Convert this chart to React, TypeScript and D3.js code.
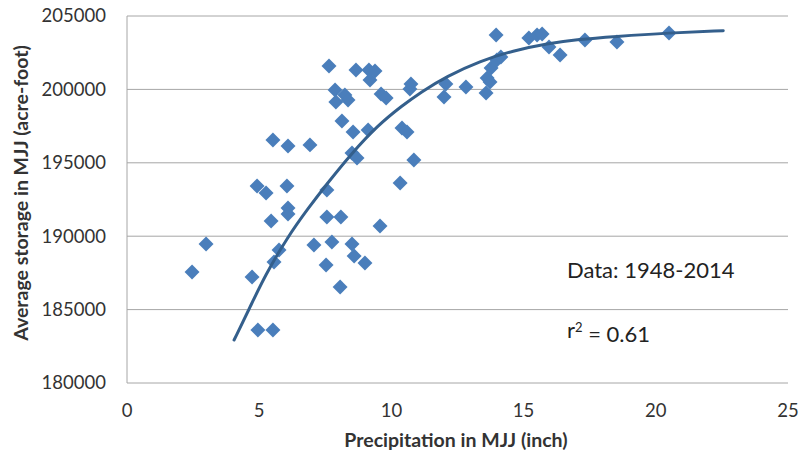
import React from 'react';
import * as d3 from 'd3';

// precipitation (inch) vs average storage (acre-foot)
const precip = [
  2.46, 2.99, 4.73, 4.95, 5.52, 4.92, 5.26, 5.45, 5.52, 5.56, 5.75, 6.05, 6.09, 6.09, 6.09,
  6.92, 7.07, 7.53, 7.56, 7.56, 7.64, 7.75, 7.87, 7.90, 8.06, 8.09, 8.13, 8.24, 8.36, 8.51,
  8.51, 8.55, 8.59, 8.66, 8.70, 9.00, 9.12, 9.15, 9.19, 9.38, 9.57, 9.61, 9.80, 10.33, 10.40,
  10.59, 10.70, 10.74, 10.85, 11.99, 12.06, 12.82, 13.58, 13.62, 13.73, 13.77, 13.96, 13.99,
  14.14, 15.20, 15.51, 15.70, 15.96, 16.38, 17.32, 18.53, 20.50,
];
const storage = [
  187560, 189470, 187220, 183610, 183610, 193420, 192940, 191030, 196550, 188240, 189060,
  193420, 191920, 191510, 196150, 196220, 189400, 188040, 191310, 193150, 201590, 189600,
  199960, 199140, 186540, 191310, 197850, 199620, 199280, 189470, 195670, 197100, 188650,
  201320, 195330, 188170, 197240, 201320, 200640, 201250, 190690, 199690, 199410, 193620,
  197370, 197100, 200030, 200370, 195190, 199480, 200370, 200170, 199750, 200780, 200500,
  201460, 203710, 202000, 202200, 203500, 203710, 203770, 202890, 202340, 203370, 203230,
  203840,
];

// trend line
const trendX = [4.05, 4.65, 5.2, 6.05, 6.85, 7.6, 8.45, 9.5, 10.4, 11.1, 12.1, 13.35, 14.6, 15.9, 17.1, 18.4, 20.5, 22.55];
const trendY = [182930, 185150, 187250, 189880, 191900, 193650, 195550, 197580, 198880, 199800, 200900, 201930, 202640, 203120, 203420, 203600, 203850, 204000];

const xTicks = [0, 5, 10, 15, 20, 25];
const yTicks = [180000, 185000, 190000, 195000, 200000, 205000];

const font = 'Lato, "Open Sans", sans-serif';

export default function App() {
  const x = d3.scaleLinear().domain([0, 25]).range([127, 788]);
  const y = d3.scaleLinear().domain([180000, 205000]).range([383, 16]);

  const diamond = d3.symbol(d3.symbolSquare, 112)();
  const trend = d3.line<number>()
    .x((d) => x(d))
    .y((_, i) => y(trendY[i]))
    .curve(d3.curveBasis)(trendX);

  return (
    <svg width={804} height={457} style={{ position: 'absolute', left: 0, top: 0, background: '#fff' }}>
      {/* gridlines */}
      {yTicks.slice(1).map((t) => (
        <line key={t} x1={x(0)} x2={x(25)} y1={y(t)} y2={y(t)} stroke="#a6a6a6" strokeWidth={1} />
      ))}
      {/* axes */}
      <line x1={x(0)} x2={x(0)} y1={y(205000)} y2={y(180000)} stroke="#a6a6a6" />
      <line x1={x(0)} x2={x(25)} y1={y(180000)} y2={y(180000)} stroke="#a6a6a6" />

      {yTicks.map((t) => (
        <text key={t} x={106} y={y(t)} dy="0.35em" textAnchor="end" fontFamily={font} fontSize={18.5} fill="#333">
          {t}
        </text>
      ))}
      {xTicks.map((t) => (
        <text key={t} x={x(t)} y={411} dy="0.35em" textAnchor="middle" fontFamily={font} fontSize={18.5} fill="#333">
          {t}
        </text>
      ))}

      {precip.map((p, i) => (
        <path key={i} d={diamond!} transform={`translate(${x(p)},${y(storage[i])}) rotate(45)`} fill="#4a7ebb" />
      ))}

      <path d={trend!} fill="none" stroke="#345f8c" strokeWidth={3} strokeLinecap="round" />

      <text x={567} y={270} dy="0.35em" fontFamily={font} fontSize={22} fill="#222">Data: 1948-2014</text>
      <text x={567} y={330} dy="0.35em" fontFamily={font} fontSize={22} fill="#222">
        r<tspan dy="-0.45em" fontSize={13}>2</tspan><tspan dy="0.45em"> = 0.61</tspan>
      </text>

      <text x={456} y={440} dy="0.35em" textAnchor="middle" fontFamily={font} fontSize={19.5} fontWeight="bold" fill="#333">
        Precipitation in MJJ (inch)
      </text>
      <text transform="translate(21,193) rotate(-90)" dy="0.35em" textAnchor="middle" fontFamily={font} fontSize={19.5} fontWeight="bold" fill="#333">
        Average storage in MJJ (acre-foot)
      </text>
    </svg>
  );
}
